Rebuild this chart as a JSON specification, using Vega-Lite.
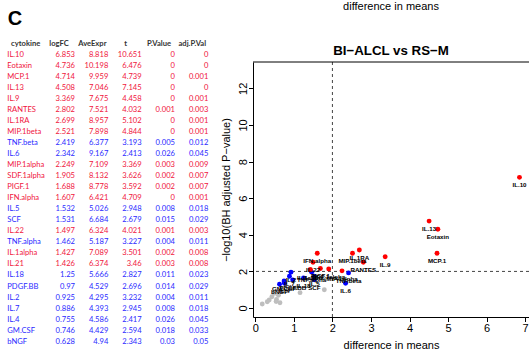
{
  "$schema": "https://vega.github.io/schema/vega-lite/v6.json",
  "width": 276,
  "height": 255,
  "autosize": {"type": "none"},
  "padding": {"left": 253, "top": 62, "right": 0, "bottom": 37},
  "background": "white",
  "config": {"view": {"stroke": null}, "font": "Liberation Sans", "axis": {"labelOverlap": false, "labelSeparation": 0}},
  "title": {
    "text": "difference in means",
    "subtitle": "BI−ALCL vs RS−M",
    "frame": "group",
    "anchor": "middle",
    "font": "Liberation Sans",
    "fontSize": 11,
    "fontWeight": "normal",
    "color": "#000000",
    "subtitleFont": "Liberation Sans",
    "subtitleFontSize": 13.3,
    "subtitleFontWeight": "bold",
    "subtitleColor": "#000000",
    "subtitlePadding": 32,
    "offset": -48
  },
  "datasets": {
    "cytokines": [
      {"cytokine": "IL.10", "logFC": 6.853, "AveExpr": 8.818, "t": 10.651, "PValue": 0, "adjPVal": 0, "negLog10AdjP": 7.14, "sig": "adj.P < 0.01"},
      {"cytokine": "Eotaxin", "logFC": 4.736, "AveExpr": 10.198, "t": 6.476, "PValue": 0, "adjPVal": 0, "negLog10AdjP": 4.30, "sig": "adj.P < 0.01"},
      {"cytokine": "MCP.1", "logFC": 4.714, "AveExpr": 9.959, "t": 4.739, "PValue": 0, "adjPVal": 0.001, "negLog10AdjP": 2.99, "sig": "adj.P < 0.01"},
      {"cytokine": "IL.13", "logFC": 4.508, "AveExpr": 7.046, "t": 7.145, "PValue": 0, "adjPVal": 0, "negLog10AdjP": 4.75, "sig": "adj.P < 0.01"},
      {"cytokine": "IL.9", "logFC": 3.369, "AveExpr": 7.675, "t": 4.458, "PValue": 0, "adjPVal": 0.001, "negLog10AdjP": 2.80, "sig": "adj.P < 0.01"},
      {"cytokine": "RANTES", "logFC": 2.802, "AveExpr": 7.521, "t": 4.032, "PValue": 0.001, "adjPVal": 0.003, "negLog10AdjP": 2.50, "sig": "adj.P < 0.01"},
      {"cytokine": "IL.1RA", "logFC": 2.699, "AveExpr": 8.957, "t": 5.102, "PValue": 0, "adjPVal": 0.001, "negLog10AdjP": 3.17, "sig": "adj.P < 0.01"},
      {"cytokine": "MIP.1beta", "logFC": 2.521, "AveExpr": 7.898, "t": 4.844, "PValue": 0, "adjPVal": 0.001, "negLog10AdjP": 2.99, "sig": "adj.P < 0.01"},
      {"cytokine": "TNF.beta", "logFC": 2.419, "AveExpr": 6.377, "t": 3.193, "PValue": 0.005, "adjPVal": 0.012, "negLog10AdjP": 1.92, "sig": "adj.P < 0.05"},
      {"cytokine": "IL.6", "logFC": 2.342, "AveExpr": 9.167, "t": 2.413, "PValue": 0.026, "adjPVal": 0.045, "negLog10AdjP": 1.35, "sig": "adj.P < 0.05"},
      {"cytokine": "MIP.1alpha", "logFC": 2.249, "AveExpr": 7.109, "t": 3.369, "PValue": 0.003, "adjPVal": 0.009, "negLog10AdjP": 2.03, "sig": "adj.P < 0.01"},
      {"cytokine": "SDF.1alpha", "logFC": 1.905, "AveExpr": 8.132, "t": 3.626, "PValue": 0.002, "adjPVal": 0.007, "negLog10AdjP": 2.13, "sig": "adj.P < 0.01"},
      {"cytokine": "PIGF.1", "logFC": 1.688, "AveExpr": 8.778, "t": 3.592, "PValue": 0.002, "adjPVal": 0.007, "negLog10AdjP": 2.16, "sig": "adj.P < 0.01"},
      {"cytokine": "IFN.alpha", "logFC": 1.607, "AveExpr": 6.421, "t": 4.709, "PValue": 0, "adjPVal": 0.001, "negLog10AdjP": 2.99, "sig": "adj.P < 0.01"},
      {"cytokine": "IL.5", "logFC": 1.532, "AveExpr": 5.026, "t": 2.948, "PValue": 0.008, "adjPVal": 0.018, "negLog10AdjP": 1.74, "sig": "adj.P < 0.05"},
      {"cytokine": "SCF", "logFC": 1.531, "AveExpr": 6.684, "t": 2.679, "PValue": 0.015, "adjPVal": 0.029, "negLog10AdjP": 1.54, "sig": "adj.P < 0.05"},
      {"cytokine": "IL.22", "logFC": 1.497, "AveExpr": 6.324, "t": 4.021, "PValue": 0.001, "adjPVal": 0.003, "negLog10AdjP": 2.50, "sig": "adj.P < 0.01"},
      {"cytokine": "TNF.alpha", "logFC": 1.462, "AveExpr": 5.187, "t": 3.227, "PValue": 0.004, "adjPVal": 0.011, "negLog10AdjP": 1.96, "sig": "adj.P < 0.05"},
      {"cytokine": "IL.1alpha", "logFC": 1.427, "AveExpr": 7.089, "t": 3.501, "PValue": 0.002, "adjPVal": 0.008, "negLog10AdjP": 2.10, "sig": "adj.P < 0.01"},
      {"cytokine": "IL.21", "logFC": 1.426, "AveExpr": 6.374, "t": 3.46, "PValue": 0.003, "adjPVal": 0.008, "negLog10AdjP": 2.09, "sig": "adj.P < 0.01"},
      {"cytokine": "IL.18", "logFC": 1.25, "AveExpr": 5.666, "t": 2.827, "PValue": 0.011, "adjPVal": 0.023, "negLog10AdjP": 1.64, "sig": "adj.P < 0.05"},
      {"cytokine": "PDGF.BB", "logFC": 0.97, "AveExpr": 4.529, "t": 2.696, "PValue": 0.014, "adjPVal": 0.029, "negLog10AdjP": 1.54, "sig": "adj.P < 0.05"},
      {"cytokine": "IL.2", "logFC": 0.925, "AveExpr": 4.295, "t": 3.232, "PValue": 0.004, "adjPVal": 0.011, "negLog10AdjP": 1.96, "sig": "adj.P < 0.05"},
      {"cytokine": "IL.7", "logFC": 0.886, "AveExpr": 4.393, "t": 2.945, "PValue": 0.008, "adjPVal": 0.018, "negLog10AdjP": 1.74, "sig": "adj.P < 0.05"},
      {"cytokine": "IL.4", "logFC": 0.755, "AveExpr": 4.586, "t": 2.417, "PValue": 0.026, "adjPVal": 0.045, "negLog10AdjP": 1.35, "sig": "adj.P < 0.05"},
      {"cytokine": "GM.CSF", "logFC": 0.746, "AveExpr": 4.429, "t": 2.594, "PValue": 0.018, "adjPVal": 0.033, "negLog10AdjP": 1.48, "sig": "adj.P < 0.05"},
      {"cytokine": "bNGF", "logFC": 0.628, "AveExpr": 4.94, "t": 2.343, "PValue": 0.03, "adjPVal": 0.05, "negLog10AdjP": 1.30, "sig": "adj.P < 0.05"}
    ],
    "others": [
      {"logFC": 0.18, "negLog10AdjP": 0.22},
      {"logFC": 0.31, "negLog10AdjP": 0.34},
      {"logFC": 0.36, "negLog10AdjP": 0.44},
      {"logFC": 0.43, "negLog10AdjP": 0.62},
      {"logFC": 0.49, "negLog10AdjP": 0.80},
      {"logFC": 0.55, "negLog10AdjP": 0.47},
      {"logFC": 0.54, "negLog10AdjP": 0.36},
      {"logFC": 0.64, "negLog10AdjP": 0.29},
      {"logFC": 0.60, "negLog10AdjP": 0.70},
      {"logFC": 0.72, "negLog10AdjP": 0.95},
      {"logFC": 1.16, "negLog10AdjP": 0.84},
      {"logFC": 1.05, "negLog10AdjP": 1.10},
      {"logFC": 1.79, "negLog10AdjP": 1.00}
    ],
    "cutoffs": [{"logFC": 2, "negLog10AdjP": 2}]
  },
  "layer": [
    {
      "width": 276,
      "height": 255,
      "layer": [
        {
          "data": {"name": "others"},
          "mark": {"type": "circle", "size": 24, "opacity": 1, "color": "#bebebe"},
          "encoding": {
            "x": {
              "field": "logFC", "type": "quantitative",
              "scale": {"domain": [-0.06, 7.1], "nice": false, "zero": false, "range": [0, 276]},
              "axis": {
                "values": [0, 1, 2, 3, 4, 5, 6, 7], "tickCount": 8, "format": "d", "grid": false,
                "title": "difference in means", "labelOverlap": false, "labelSeparation": 0, "labelBound": false, "labelFlush": false,
                "domainColor": "#000000", "tickColor": "#000000", "tickSize": 4.5,
                "labelFont": "Liberation Sans", "labelFontSize": 11, "labelColor": "#000000", "labelPadding": 1,
                "titleFont": "Liberation Sans", "titleFontSize": 11, "titleFontWeight": "normal", "titleColor": "#000000", "titlePadding": 6
              }
            },
            "y": {
              "field": "negLog10AdjP", "type": "quantitative",
              "scale": {"domain": [-0.49, 13.44], "nice": false, "zero": false, "range": [255, 0]},
              "axis": {
                "values": [0, 2, 4, 6, 8, 10, 12], "format": "d", "grid": false,
                "title": "−log10(BH adjusted P−value)", "labelOverlap": false, "labelFlush": false,
                "domainColor": "#000000", "tickColor": "#000000", "tickSize": 4.5,
                "labelFont": "Liberation Sans", "labelFontSize": 11, "labelColor": "#000000",
                "labelAngle": -90, "labelAlign": "center", "labelBaseline": "alphabetic", "labelPadding": 2.5,
                "titleFont": "Liberation Sans", "titleFontSize": 11, "titleFontWeight": "normal", "titleColor": "#000000", "titlePadding": 6
              }
            }
          }
        },
        {
          "data": {"name": "cutoffs"},
          "mark": {"type": "rule", "color": "#444444", "strokeWidth": 1, "strokeDash": [3, 3]},
          "encoding": {"x": {"field": "logFC", "type": "quantitative"}}
        },
        {
          "data": {"name": "cutoffs"},
          "mark": {"type": "rule", "color": "#444444", "strokeWidth": 1, "strokeDash": [3, 3]},
          "encoding": {"y": {"field": "negLog10AdjP", "type": "quantitative"}}
        },
        {
          "data": {"name": "cutoffs"},
          "mark": {"type": "rule", "color": "#000000", "strokeWidth": 1},
          "encoding": {"y": {"datum": 13.44, "type": "quantitative"}}
        },
        {
          "data": {"name": "cytokines"},
          "transform": [{"filter": "datum.sig === 'adj.P < 0.05'"}],
          "mark": {"type": "circle", "size": 24, "opacity": 1},
          "encoding": {
            "x": {"field": "logFC", "type": "quantitative"},
            "y": {"field": "negLog10AdjP", "type": "quantitative"},
            "color": {"field": "sig", "type": "nominal", "scale": {"domain": ["adj.P < 0.01", "adj.P < 0.05"], "range": ["#ff0000", "#0000ff"]}, "legend": null}
          }
        },
        {
          "data": {"name": "cytokines"},
          "transform": [{"filter": "datum.sig === 'adj.P < 0.01'"}],
          "mark": {"type": "circle", "size": 24, "opacity": 1},
          "encoding": {
            "x": {"field": "logFC", "type": "quantitative"},
            "y": {"field": "negLog10AdjP", "type": "quantitative"},
            "color": {"field": "sig", "type": "nominal", "legend": null}
          }
        },
        {
          "data": {"name": "cytokines"},
          "mark": {"type": "text", "font": "Liberation Sans", "fontSize": 6.2, "fontWeight": "bold", "color": "#000000", "align": "center", "baseline": "middle", "dy": 8},
          "encoding": {
            "x": {"field": "logFC", "type": "quantitative"},
            "y": {"field": "negLog10AdjP", "type": "quantitative"},
            "text": {"field": "cytokine", "type": "nominal"}
          }
        }
      ]
    },
    {
      "width": 276,
      "height": 255,
      "layer": [
        {
          "data": {"values": [{"h": "cytokine", "label": "cytokine"}, {"h": "logFC", "label": "logFC"}, {"h": "AveExpr", "label": "AveExpr"}, {"h": "t", "label": "t"}, {"h": "PValue", "label": "P.Value"}, {"h": "adjPVal", "label": "adj.P.Val"}]},
          "mark": {"type": "text", "font": "Lato", "fontSize": 7.6, "fontWeight": "bold", "color": "#333333", "align": "center", "baseline": "middle", "dx": -16},
          "encoding": {
            "x": {"field": "h", "type": "nominal", "scale": {"type": "point", "domain": ["cytokine", "logFC", "AveExpr", "t", "PValue", "adjPVal"], "range": [-211.3, -44.7], "padding": 0}, "axis": null},
            "y": {"field": "row", "type": "nominal", "scale": {"type": "point", "domain": ["cytokine", "IL.10", "Eotaxin", "MCP.1", "IL.13", "IL.9", "RANTES", "IL.1RA", "MIP.1beta", "TNF.beta", "IL.6", "MIP.1alpha", "SDF.1alpha", "PIGF.1", "IFN.alpha", "IL.5", "SCF", "IL.22", "TNF.alpha", "IL.1alpha", "IL.21", "IL.18", "PDGF.BB", "IL.2", "IL.7", "IL.4", "GM.CSF", "bNGF"], "range": [-18.3, 279.7], "padding": 0}, "axis": null},
            "text": {"field": "label", "type": "nominal"}
          },
          "transform": [{"calculate": "'cytokine'", "as": "row"}]
        },
        {
          "data": {"values": [{"panel": "C", "col": "cytokine", "row": "cytokine"}]},
          "mark": {"type": "text", "font": "Liberation Sans", "fontSize": 20, "fontWeight": "bold", "color": "#000000", "align": "left", "baseline": "middle", "dx": -34, "dy": -24.5},
          "encoding": {
            "x": {"field": "col", "type": "nominal"},
            "y": {"field": "row", "type": "nominal"},
            "text": {"field": "panel", "type": "nominal"}
          }
        },
        {
          "data": {"name": "cytokines"},
          "transform": [{"calculate": "'cytokine'", "as": "col"}],
          "mark": {"type": "text", "font": "Lato", "fontSize": 7.6, "align": "left", "baseline": "middle", "dx": -34.4},
          "encoding": {
            "x": {"field": "col", "type": "nominal"},
            "y": {"field": "cytokine", "type": "nominal"},
            "text": {"field": "cytokine", "type": "nominal"},
            "color": {"field": "sig", "type": "nominal", "scale": {"domain": ["adj.P < 0.01", "adj.P < 0.05"], "range": ["#f0143c", "#2a2aff"]}, "legend": null}
          }
        },
        {
          "data": {"name": "cytokines"},
          "transform": [{"fold": ["logFC", "AveExpr", "t", "PValue", "adjPVal"], "as": ["column", "value"]}],
          "mark": {"type": "text", "font": "Lato", "fontSize": 7.6, "align": "right", "baseline": "middle"},
          "encoding": {
            "x": {"field": "column", "type": "nominal"},
            "y": {"field": "cytokine", "type": "nominal"},
            "text": {"field": "value", "type": "nominal"},
            "color": {"field": "sig", "type": "nominal", "legend": null}
          }
        }
      ]
    }
  ],
  "resolve": {
    "scale": {"x": "independent", "y": "independent", "color": "independent"},
    "axis": {"x": "independent", "y": "independent"}
  }
}
